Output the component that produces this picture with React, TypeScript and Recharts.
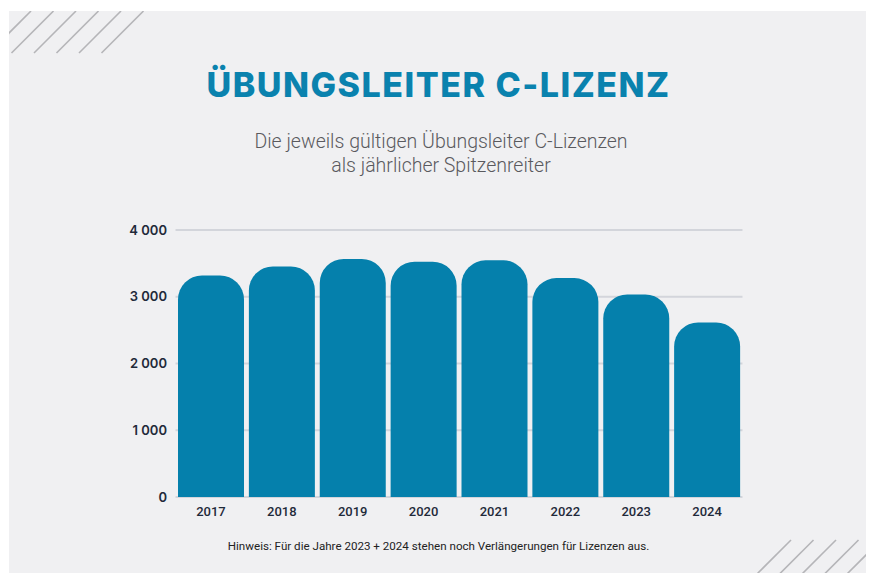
import { Bar, BarChart, CartesianGrid, XAxis, YAxis } from "recharts";

const years = ["2017", "2018", "2019", "2020", "2021", "2022", "2023", "2024"];
const licences = [3320, 3455, 3565, 3525, 3545, 3280, 3035, 2615];
const yTicks = [0, 1000, 2000, 3000, 4000];

const data = years.map((year, i) => ({ year, licences: licences[i] }));

const BLUE = "#0580ac";

function formatThousands(value: number) {
  return value === 0 ? "0" : value.toLocaleString("fr-FR").replace(/\u202f|\u00a0/g, " ");
}

function Hatch({ x, y, count }: { x: number; y: number; count: number }) {
  const lines = [];
  for (let i = 0; i < count; i++) {
    lines.push(
      <line
        key={i}
        x1={x + i * 22.5}
        y1={y + 42}
        x2={x + i * 22.5 + 42}
        y2={y}
        stroke="#b5b5b8"
        strokeWidth={1.6}
      />
    );
  }
  return <>{lines}</>;
}

export default function App() {
  return (
    <div
      style={{
        position: "absolute",
        left: 0,
        top: 0,
        width: 875,
        height: 573,
        background: "#ffffff",
        overflow: "hidden",
      }}
    >
      <div
        style={{
          position: "absolute",
          left: 9,
          top: 11,
          width: 857,
          height: 562,
          background: "#f0f0f2",
          overflow: "hidden",
        }}
      >
        <svg width={857} height={562} style={{ position: "absolute", left: 0, top: 0 }}>
          <Hatch x={-20} y={0} count={6} />
          <Hatch x={740} y={529} count={6} />
        </svg>
      </div>

      <div
        style={{
          position: "absolute",
          left: 0,
          top: 64,
          width: 877,
          textAlign: "center",
          fontFamily: "Inter, 'Noto Sans', sans-serif",
          fontWeight: 800,
          fontSize: 34,
          letterSpacing: 1.5,
          color: "#0a82ae",
        }}
      >
        ÜBUNGSLEITER C-LIZENZ
      </div>

      <div
        style={{
          position: "absolute",
          left: 0,
          top: 130,
          width: 882,
          textAlign: "center",
          fontFamily: "Roboto, 'Noto Sans', sans-serif",
          fontWeight: 300,
          fontSize: 19.5,
          lineHeight: "24px",
          color: "#5a5a5e",
        }}
      >
        Die jeweils gültigen Übungsleiter C-Lizenzen
        <br />
        als jährlicher Spitzenreiter
      </div>

      <div style={{ position: "absolute", left: 0, top: 0 }}>
        <BarChart
          width={875}
          height={573}
          data={data}
          margin={{ top: 230, right: 132.5, bottom: 46, left: 115.5 }}
          barCategoryGap={2.5}
        >
          <CartesianGrid vertical={false} stroke="#d3d5db" strokeWidth={2} />
          <XAxis
            dataKey="year"
            axisLine={false}
            tickLine={false}
            height={30}
            tickMargin={4}
            tick={{ fill: "#1f2a3a", fontSize: 13, fontFamily: "Roboto, sans-serif", fontWeight: 500 }}
          />
          <YAxis
            width={60}
            domain={[0, 4000]}
            ticks={yTicks}
            axisLine={false}
            tickLine={false}
            tickMargin={2.5}
            tickFormatter={formatThousands}
            tick={{ fill: "#1f2a3a", fontSize: 13, fontFamily: "Inter, sans-serif", fontWeight: 600 }}
          />
          <Bar
            dataKey="licences"
            fill={BLUE}
            radius={[24, 24, 0, 0]}
            isAnimationActive={false}
          />
        </BarChart>
      </div>

      <div
        style={{
          position: "absolute",
          left: 0,
          top: 539,
          width: 877,
          textAlign: "center",
          fontFamily: "'Roboto', sans-serif",
          fontSize: 11.6,
          color: "#222",
        }}
      >
        Hinweis: Für die Jahre 2023 + 2024 stehen noch Verlängerungen für Lizenzen aus.
      </div>
    </div>
  );
}
